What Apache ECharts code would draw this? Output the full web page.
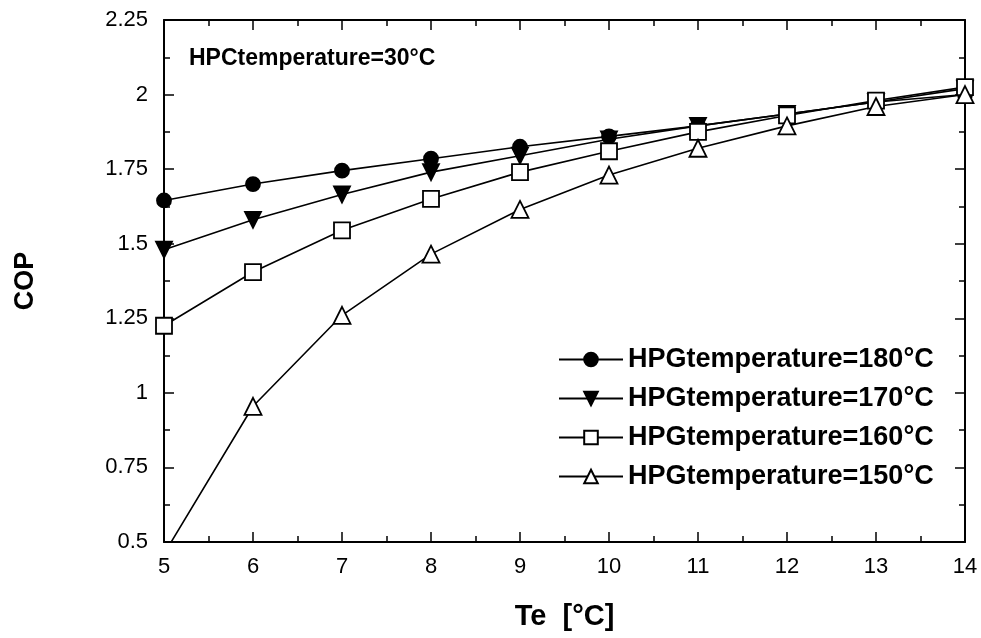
<!DOCTYPE html>
<html>
<head>
<meta charset="utf-8">
<script src="https://cdn.jsdelivr.net/npm/echarts@6/dist/echarts.min.js"></script>
<style>
    html, body { margin: 0; padding: 0; background: #fff; }
    #cop-chart { width: 981px; height: 638px; }
</style>
</head>
<body>
<div id="cop-chart"></div>
<script>
// evaporator temperature Te [°C]
var te = [5, 6, 7, 8, 9, 10, 11, 12, 13, 14];

// COP, one array per HPG temperature
var cop180 = [1.645, 1.70, 1.745, 1.785, 1.825, 1.86, 1.895, 1.935, 1.975, 2.0];
var cop170 = [1.48, 1.58, 1.665, 1.74, 1.795, 1.85, 1.895, 1.935, 1.975, 2.02];
var cop160 = [1.225, 1.405, 1.545, 1.65, 1.74, 1.81, 1.875, 1.93, 1.98, 2.025];
var cop150 = [0.46, 0.955, 1.26, 1.465, 1.615, 1.73, 1.82, 1.895, 1.96, 2.0];

var names = ['HPGtemperature=180°C', 'HPGtemperature=170°C', 'HPGtemperature=160°C', 'HPGtemperature=150°C'];

var fontFam = 'Liberation Sans, Arial, sans-serif';

function pairs(ys) {
    var out = [];
    for (var i = 0; i < te.length; i++) {
        out.push([te[i], ys[i]]);
    }
    return out;
}

var axisLine = { show: true, lineStyle: { color: '#000', width: 2 } };
var tickIn = { show: true, inside: true, length: 10, lineStyle: { color: '#000', width: 1.5 } };
var minorIn = { show: true, splitNumber: 2, length: 6, lineStyle: { color: '#000', width: 1.5 } };

function lineSeries(name, ys, symbol, size, filled, rotate) {
    return {
        name: name,
        type: 'line',
        data: pairs(ys),
        symbol: symbol,
        symbolSize: size,
        symbolRotate: rotate || 0,
        showAllSymbol: true,
        clip: true,
        lineStyle: { color: '#000', width: 1.6 },
        itemStyle: {
            color: filled ? '#000' : '#fff',
            borderColor: '#000',
            borderWidth: 1.8
        },
        emphasis: { disabled: true },
        z: 3
    };
}

var option = {
    animation: false,
    backgroundColor: '#fff',
    grid: { left: 164, right: 16, top: 20, bottom: 96 },
    title: {
        text: 'HPCtemperature=30°C',
        left: 184,
        top: 42,
        textStyle: { color: '#000', fontSize: 23, fontWeight: 'bold', fontFamily: fontFam }
    },
    legend: {
        orient: 'vertical',
        left: 553,
        top: 341,
        itemWidth: 64,
        itemHeight: 17,
        itemGap: 12,
        data: names,
        textStyle: { color: '#000', fontSize: 27, fontWeight: 'bold', fontFamily: fontFam }
    },
    xAxis: [
        {
            type: 'value',
            min: 5,
            max: 14,
            interval: 1,
            name: 'Te  [°C]',
            nameLocation: 'middle',
            nameGap: 60,
            nameTextStyle: { color: '#000', fontSize: 29, fontWeight: 'bold', fontFamily: fontFam },
            axisLine: axisLine,
            axisTick: tickIn,
            minorTick: minorIn,
            splitLine: { show: false },
            axisLabel: { margin: 14, color: '#000', fontSize: 22, fontFamily: fontFam }
        },
        {
            type: 'value',
            position: 'top',
            min: 5,
            max: 14,
            interval: 1,
            axisLine: axisLine,
            axisTick: tickIn,
            minorTick: minorIn,
            splitLine: { show: false },
            axisLabel: { show: false }
        }
    ],
    yAxis: [
        {
            type: 'value',
            min: 0.5,
            max: 2.25,
            interval: 0.25,
            name: 'COP',
            nameLocation: 'middle',
            nameGap: 125,
            nameRotate: 90,
            nameTextStyle: { color: '#000', fontSize: 27, fontWeight: 'bold', fontFamily: fontFam },
            axisLine: axisLine,
            axisTick: tickIn,
            minorTick: minorIn,
            splitLine: { show: false },
            axisLabel: { margin: 16, color: '#000', fontSize: 22, fontFamily: fontFam }
        },
        {
            type: 'value',
            position: 'right',
            min: 0.5,
            max: 2.25,
            interval: 0.25,
            axisLine: axisLine,
            axisTick: tickIn,
            minorTick: minorIn,
            splitLine: { show: false },
            axisLabel: { show: false }
        }
    ],
    series: [
        lineSeries(names[0], cop180, 'circle', 14, true),
        lineSeries(names[1], cop170, 'triangle', 16, true, 180),
        lineSeries(names[2], cop160, 'rect', 16, false),
        lineSeries(names[3], cop150, 'triangle', 17, false)
    ]
};

var copChart = echarts.init(document.getElementById('cop-chart'));
copChart.setOption(option);
</script>
</body>
</html>
